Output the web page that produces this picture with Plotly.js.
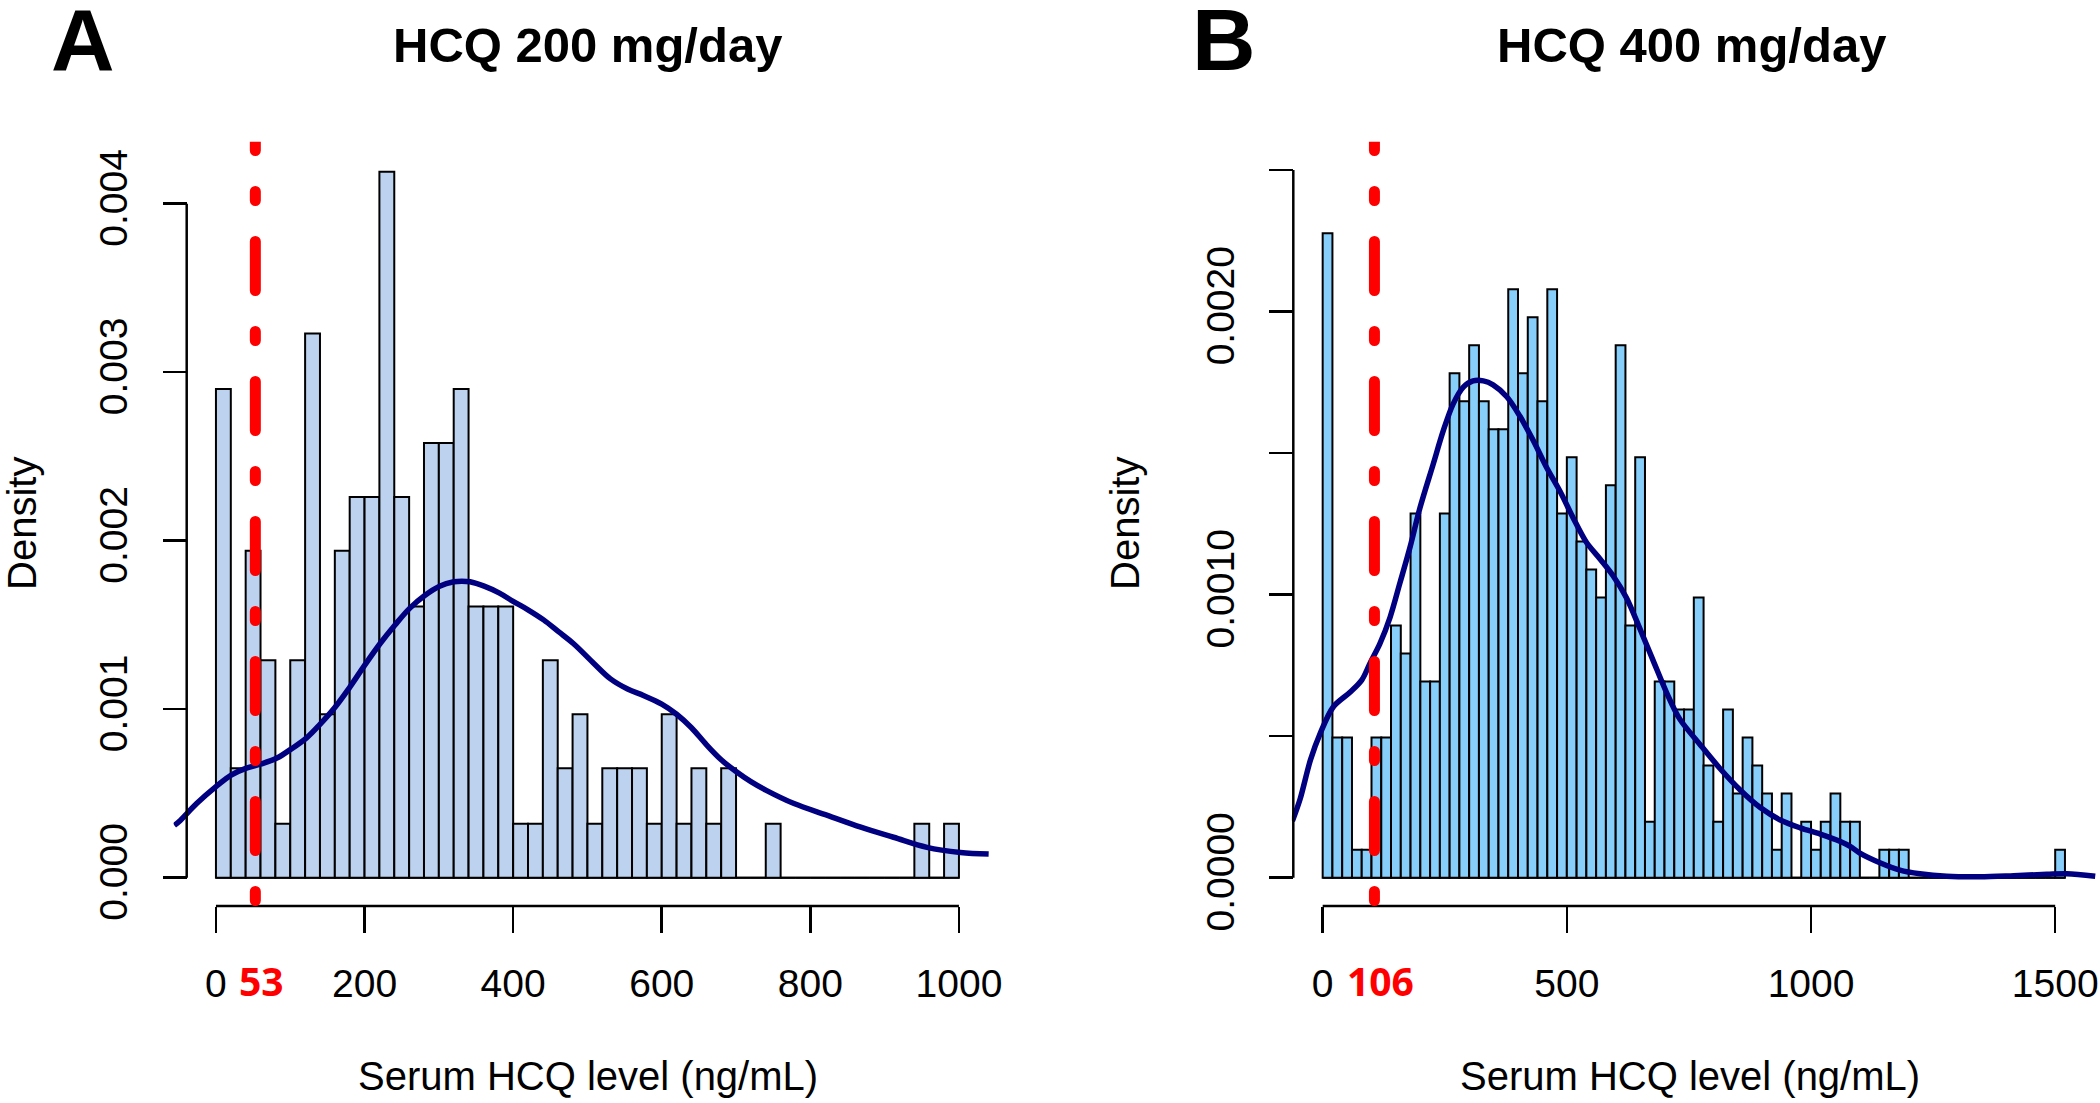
<!DOCTYPE html>
<html>
<head>
<meta charset="utf-8">
<script src="https://cdn.plot.ly/plotly-3.0.1.min.js"></script>
<style>
  html, body { margin: 0; padding: 0; background: #fff; }
  #chart { width: 2100px; height: 1103px; }
</style>
</head>
<body>
<div id="chart"></div>
<script>
// ---------------- DATA ----------------
// Panel A: HCQ 200 mg/day — histogram densities, bins of 20 ng/mL starting at 0
const titleA = "HCQ 200 mg/day";
const binStartA = 0, binWidthA = 20;
const densityA = [
  0.00290, 0.00065, 0.00194, 0.00129, 0.00032, 0.00129, 0.00323, 0.00097, 0.00194, 0.00226,
  0.00226, 0.00419, 0.00226, 0.00161, 0.00258, 0.00258, 0.00290, 0.00161, 0.00161, 0.00161,
  0.00032, 0.00032, 0.00129, 0.00065, 0.00097, 0.00032, 0.00065, 0.00065, 0.00065, 0.00032,
  0.00097, 0.00032, 0.00065, 0.00032, 0.00065, 0.00000, 0.00000, 0.00032, 0.00000, 0.00000,
  0.00000, 0.00000, 0.00000, 0.00000, 0.00000, 0.00000, 0.00000, 0.00032, 0.00000, 0.00032
];
// kernel density curve A (x, density)
const kdeAx = [-56, -48, -26, 0, 21, 41, 61, 82, 100, 122, 140, 160, 180, 200, 221, 241, 261, 281, 301, 320,
  331, 342, 361, 381, 400, 420, 441, 461, 481, 509, 531, 554, 576, 600, 620, 640, 660, 680, 700, 720,
  740, 778, 823, 868, 912, 957, 1002, 1040];
const kdeAy = [0.00031, 0.00034, 0.00044, 0.00054, 0.00061, 0.00065, 0.000675, 0.00071, 0.00076, 0.00083,
  0.00091, 0.00101, 0.00113, 0.00126, 0.00139, 0.00150, 0.00160, 0.001675, 0.00173, 0.001756,
  0.00176, 0.001756, 0.00173, 0.00169, 0.00164, 0.00159, 0.00153, 0.00146, 0.00139, 0.00127,
  0.00118, 0.00112, 0.00108, 0.00103, 0.00097, 0.00089, 0.00079, 0.00070, 0.00063, 0.00057,
  0.00052, 0.00044, 0.00037, 0.00030, 0.00024, 0.00018, 0.00015, 0.00014];
const cutoffA = 53;
const xTicksA = [0, 200, 400, 600, 800, 1000];
const yTicksA = [0, 0.001, 0.002, 0.003, 0.004];
const yTickTextA = ["0.000", "0.001", "0.002", "0.003", "0.004"];

// Panel B: HCQ 400 mg/day
const titleB = "HCQ 400 mg/day";
const binStartB = 0, binWidthB = 20;
const densityB = [
  0.002277, 0.000495, 0.000495, 0.000099, 0.000099, 0.000495, 0.000495, 0.000891, 0.000792, 0.001287,
  0.000693, 0.000693, 0.001287, 0.001782, 0.001683, 0.001881, 0.001683, 0.001584, 0.001584, 0.002079,
  0.001782, 0.001980, 0.001683, 0.002079, 0.001287, 0.001485, 0.001188, 0.001089, 0.000990, 0.001386,
  0.001881, 0.000891, 0.001485, 0.000198, 0.000693, 0.000693, 0.000594, 0.000594, 0.000990, 0.000396,
  0.000198, 0.000594, 0.000297, 0.000495, 0.000396, 0.000297, 0.000099, 0.000297, 0.000000, 0.000198,
  0.000099, 0.000198, 0.000297, 0.000198, 0.000198, 0.000000, 0.000000, 0.000099, 0.000099, 0.000099,
  0.000000, 0.000000, 0.000000, 0.000000, 0.000000, 0.000000, 0.000000, 0.000000, 0.000000, 0.000000,
  0.000000, 0.000000, 0.000000, 0.000000, 0.000000, 0.000099
];
const kdeBx = [-62, -46, -25, -5, 22, 56, 80, 97, 117, 138, 158, 179, 199, 226, 247, 267, 288, 308, 329, 349,
  377, 404, 431, 458, 486, 513, 540, 568, 595, 622, 650, 677, 704, 731, 773, 814, 855, 896, 937, 978,
  1019, 1060, 1080, 1100, 1141, 1182, 1223, 1278, 1346, 1415, 1483, 1524, 1582];
const kdeBy = [0.00020, 0.000279, 0.000416, 0.00051, 0.000604, 0.000655, 0.000698, 0.000758, 0.000826, 0.00092,
  0.00104, 0.001168, 0.001305, 0.001459, 0.001579, 0.001673, 0.001733, 0.001755, 0.001755, 0.001741,
  0.001699, 0.00163, 0.001545, 0.001451, 0.001365, 0.001271, 0.001185, 0.001126, 0.001066, 0.000989,
  0.000878, 0.000766, 0.000655, 0.000561, 0.00047, 0.000385, 0.00031, 0.000248, 0.000204, 0.000176,
  0.000154, 0.000128, 0.000111, 0.000087, 0.000053, 0.000027, 0.000014, 0.000005, 0.000003, 0.000007,
  0.000012, 0.000014, 0.000005];
const cutoffB = 106;
const xTicksB = [0, 500, 1000, 1500];
const yTicksB = [0, 0.0005, 0.001, 0.0015, 0.002, 0.0025];
const yTickTextB = ["0.0000", "", "0.0010", "", "0.0020", ""];

// ---------------- LAYOUT GEOMETRY ----------------
const W = 2100, H = 1103;
const px = v => v / W;          // horizontal pixel -> paper
const py = v => 1 - v / H;      // vertical pixel (from top) -> paper
const plotTop = 141.7, plotBottom = 906;

const rangeAx = [-57, 1041], domAx = [173.6, 989.4];
const rangeAy = [-0.000168, 0.004368];
const yAxisPosA = 186.7;
const rangeBx = [-63, 1585], domBx = [1291.9, 2096.7];
const rangeBy = [-0.0001, 0.0026];
const yAxisPosB = 1293.3;

const FONT = "Liberation Sans, Arial, Helvetica, sans-serif";
const tickFont = { family: FONT, size: 39, color: "#000" };
const labFont = { family: FONT, size: 40, color: "#000" };

function centers(start, width, n) {
  const c = [];
  for (let i = 0; i < n; i++) c.push(start + width * (i + 0.5));
  return c;
}

const traces = [
  { type: "bar", x: centers(binStartA, binWidthA, densityA.length), y: densityA, width: binWidthA,
    xaxis: "x", yaxis: "y", marker: { color: "#BCD2EE", line: { color: "#000", width: 2 } },
    hoverinfo: "skip", showlegend: false },
  { type: "scatter", mode: "lines", x: kdeAx, y: kdeAy, xaxis: "x", yaxis: "y",
    line: { color: "#000080", width: 5.5, shape: "spline", smoothing: 1 }, hoverinfo: "skip", showlegend: false },
  { type: "bar", x: centers(binStartB, binWidthB, densityB.length), y: densityB, width: binWidthB,
    xaxis: "x2", yaxis: "y2", marker: { color: "#87CEFA", line: { color: "#000", width: 2 } },
    hoverinfo: "skip", showlegend: false },
  { type: "scatter", mode: "lines", x: kdeBx, y: kdeBy, xaxis: "x2", yaxis: "y2",
    line: { color: "#000080", width: 5.5, shape: "spline", smoothing: 0.9 }, hoverinfo: "skip", showlegend: false }
];

function xAxis(dom, range, ticks, yref) {
  return {
    domain: [px(dom[0]), px(dom[1])], range: range, anchor: yref,
    tickmode: "array", tickvals: ticks, ticktext: ticks.map(String),
    ticks: "outside", ticklen: 26, tickwidth: 2.5, tickcolor: "#000",
    showline: false, showgrid: false, zeroline: false, tickfont: tickFont,
    ticklabelstandoff: 17, fixedrange: true
  };
}
function yAxis(pos, range, ticks, text) {
  return {
    domain: [py(plotBottom), py(plotTop)], range: range, anchor: "free", position: px(pos),
    tickmode: "array", tickvals: ticks, ticktext: text, tickangle: -90,
    ticks: "outside", ticklen: 24, tickwidth: 2.5, tickcolor: "#000",
    showline: false, showgrid: false, zeroline: false, tickfont: tickFont,
    ticklabelstandoff: 20, fixedrange: true
  };
}

const lastA = binStartA + binWidthA * densityA.length;
const lastB = binStartB + binWidthB * densityB.length;

function redLine(xref, yref, xv, range) {
  const pxPerUnit = (plotBottom - plotTop) / (range[1] - range[0]);
  return { type: "line", xref: xref, yref: yref, x0: xv, x1: xv,
    y0: range[0] + 5.5 / pxPerUnit, y1: range[1] + 0.2 * (range[1] - range[0]),
    line: { color: "#FF0000", width: 11, dash: "9px,41px,49px,41px" }, layer: "above" };
}

const shapes = [
  // histogram baselines
  { type: "line", xref: "x", yref: "y", x0: binStartA, x1: lastA, y0: 0, y1: 0, line: { color: "#000", width: 2 }, layer: "below" },
  { type: "line", xref: "x2", yref: "y2", x0: binStartB, x1: lastB, y0: 0, y1: 0, line: { color: "#000", width: 2 }, layer: "below" },
  // axis lines (span first..last tick, R style)
  { type: "line", xref: "x", yref: "paper", x0: xTicksA[0], x1: xTicksA[xTicksA.length - 1], y0: py(plotBottom), y1: py(plotBottom), line: { color: "#000", width: 2.5 } },
  { type: "line", xref: "paper", yref: "y", x0: px(yAxisPosA), x1: px(yAxisPosA), y0: yTicksA[0], y1: yTicksA[yTicksA.length - 1], line: { color: "#000", width: 2.5 } },
  { type: "line", xref: "x2", yref: "paper", x0: xTicksB[0], x1: xTicksB[xTicksB.length - 1], y0: py(plotBottom), y1: py(plotBottom), line: { color: "#000", width: 2.5 } },
  { type: "line", xref: "paper", yref: "y2", x0: px(yAxisPosB), x1: px(yAxisPosB), y0: yTicksB[0], y1: yTicksB[yTicksB.length - 1], line: { color: "#000", width: 2.5 } },
  // cut-off lines
  redLine("x", "y", cutoffA, rangeAy),
  redLine("x2", "y2", cutoffB, rangeBy)
];

const redFont = { family: "Open Sans, Noto Sans, sans-serif", size: 39, color: "#FF0000", weight: 700 };
const annotations = [
  { text: "<b>A</b>", xref: "paper", yref: "paper", x: px(83), y: py(40), xanchor: "center", yanchor: "middle", showarrow: false,
    font: { family: FONT, size: 88, color: "#000" } },
  { text: "<b>B</b>", xref: "paper", yref: "paper", x: px(1224), y: py(40), xanchor: "center", yanchor: "middle", showarrow: false,
    font: { family: FONT, size: 88, color: "#000" } },
  { text: "<b>" + titleA + "</b>", xref: "paper", yref: "paper", x: px(587), y: py(45), xanchor: "center", yanchor: "middle", showarrow: false,
    font: { family: FONT, size: 49, color: "#000" } },
  { text: "<b>" + titleB + "</b>", xref: "paper", yref: "paper", x: px(1691), y: py(45), xanchor: "center", yanchor: "middle", showarrow: false,
    font: { family: FONT, size: 49, color: "#000" } },
  { text: "Density", xref: "paper", yref: "paper", x: px(22), y: py(524), xanchor: "center", yanchor: "middle", textangle: -90, showarrow: false, font: labFont },
  { text: "Density", xref: "paper", yref: "paper", x: px(1125), y: py(524), xanchor: "center", yanchor: "middle", textangle: -90, showarrow: false, font: labFont },
  { text: "Serum HCQ level (ng/mL)", xref: "paper", yref: "paper", x: px(588), y: py(1076), xanchor: "center", yanchor: "middle", showarrow: false, font: labFont },
  { text: "Serum HCQ level (ng/mL)", xref: "paper", yref: "paper", x: px(1690), y: py(1076), xanchor: "center", yanchor: "middle", showarrow: false, font: labFont },
  { text: "<b>" + cutoffA + "</b>", xref: "x", yref: "paper", x: cutoffA, xshift: 6, y: py(980), xanchor: "center", yanchor: "middle", showarrow: false, font: redFont },
  { text: "<b>" + cutoffB + "</b>", xref: "x2", yref: "paper", x: cutoffB, xshift: 6, y: py(980), xanchor: "center", yanchor: "middle", showarrow: false, font: redFont }
];

const layout = {
  width: W, height: H, margin: { l: 0, r: 0, t: 0, b: 0, pad: 0 },
  paper_bgcolor: "#fff", plot_bgcolor: "rgba(0,0,0,0)",
  showlegend: false, bargap: 0,
  xaxis: xAxis(domAx, rangeAx, xTicksA, "y"),
  yaxis: yAxis(yAxisPosA, rangeAy, yTicksA, yTickTextA),
  xaxis2: xAxis(domBx, rangeBx, xTicksB, "y2"),
  yaxis2: yAxis(yAxisPosB, rangeBy, yTicksB, yTickTextB),
  shapes: shapes, annotations: annotations
};

Plotly.newPlot("chart", traces, layout, { staticPlot: true, displayModeBar: false }).then(() => {
  document.querySelectorAll(".shapelayer path").forEach(p => {
    const s = p.style.stroke;
    if (s === "rgb(255, 0, 0)" || s === "#ff0000") p.style.strokeLinecap = "round";
  });
});
</script>
</body>
</html>
